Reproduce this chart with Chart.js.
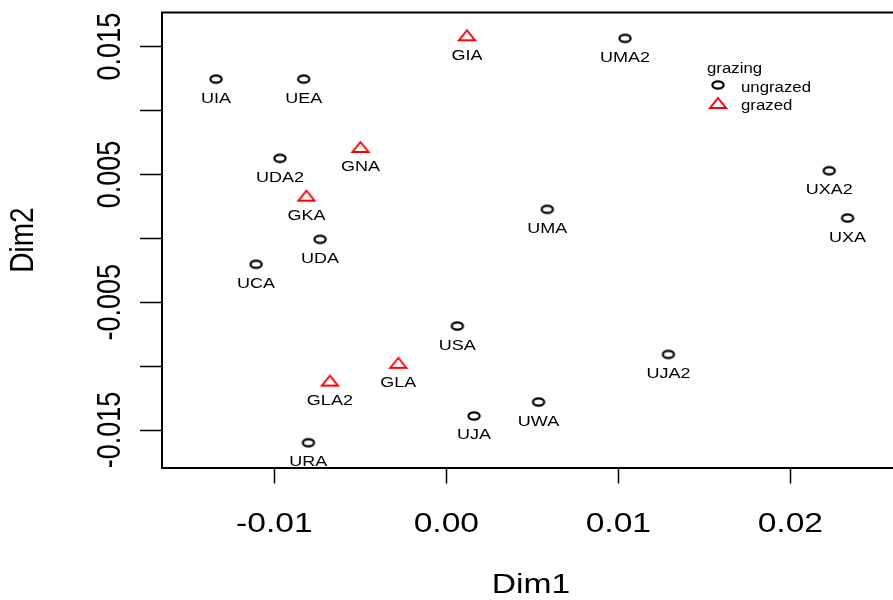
<!DOCTYPE html>
<html>
<head>
<meta charset="utf-8">
<title>NMDS ordination</title>
<script src="https://cdn.jsdelivr.net/npm/chart.js@4.4.1/dist/chart.umd.min.js"></script>
<style>
  html, body { margin: 0; padding: 0; background: #fff; overflow: hidden; }
  canvas { display: block; }
</style>
</head>
<body>
<!-- the plot box runs on past the right edge of the window -->
<canvas id="nmdsChart" width="903" height="600"></canvas>
<script>
// Site scores on the first two NMDS axes
const ungrazedSites = ['UIA', 'UEA', 'UMA2', 'UDA2', 'UDA', 'UCA', 'UMA', 'UXA2', 'UXA', 'USA', 'UJA2', 'UJA', 'UWA', 'URA'];
const ungrazedDim1 = [-0.01339, -0.00829, 0.01039, -0.00967, -0.00734, -0.01106, 0.00587, 0.02226, 0.02333, 0.00064, 0.01291, 0.00161, 0.00536, -0.00802];
const ungrazedDim2 = [0.01246, 0.01246, 0.01565, 0.00626, -0.00008, -0.00203, 0.00227, 0.00529, 0.00159, -0.00686, -0.00908, -0.01390, -0.01281, -0.01599];

const grazedSites = ['GIA', 'GNA', 'GKA', 'GLA', 'GLA2'];
const grazedDim1 = [0.00120, -0.00499, -0.00813, -0.00279, -0.00677];
const grazedDim2 = [0.01581, 0.00707, 0.00326, -0.00982, -0.01121];

// Axis ticks
const xTicks = [-0.01, 0, 0.01, 0.02];
const yTicks = [-0.015, -0.01, -0.005, 0, 0.005, 0.01, 0.015];
const yTickLabels = [-0.015, -0.005, 0.005, 0.015];

const legendTitle = 'grazing';
const legendLabels = ['ungrazed', 'grazed'];

const FONT = "'Liberation Sans', Arial, Helvetica, sans-serif";
const STRETCH = 1.2; // text is drawn slightly wide

// open circle, a bit flattened
function circleMarker() {
    const c = document.createElement('canvas');
    c.width = 18; c.height = 14;
    const g = c.getContext('2d');
    g.strokeStyle = '#000';
    g.lineWidth = 2.2;
    g.beginPath();
    g.ellipse(9, 7, 5.6, 3.6, 0, 0, Math.PI * 2);
    g.stroke();
    return c;
}

// open red triangle
function triangleMarker() {
    const c = document.createElement('canvas');
    c.width = 24; c.height = 22;
    const g = c.getContext('2d');
    g.strokeStyle = '#ff0000';
    g.lineWidth = 2;
    g.beginPath();
    g.moveTo(12, 11 - 6);
    g.lineTo(12 + 8, 11 + 4);
    g.lineTo(12 - 8, 11 + 4);
    g.closePath();
    g.stroke();
    return c;
}

const circleImg = circleMarker();
const triangleImg = triangleMarker();

function toPoints(xs, ys) {
    return xs.map((x, i) => ({ x: x, y: ys[i] }));
}

function drawText(ctx, text, x, y, size, align, rotate) {
    ctx.save();
    ctx.translate(x, y);
    ctx.scale(STRETCH, 1);
    if (rotate) ctx.rotate(-Math.PI / 2);
    ctx.font = size + 'px ' + FONT;
    ctx.fillStyle = '#000';
    ctx.textAlign = align;
    ctx.textBaseline = 'alphabetic';
    ctx.fillText(text, 0, 0);
    ctx.restore();
}

// box top, tick labels, titles, site names and legend
const annotations = {
    id: 'annotations',
    afterDraw(chart) {
        const ctx = chart.ctx;
        const area = chart.chartArea;
        const xs = chart.scales.x;
        const ys = chart.scales.y;

        ctx.save();
        ctx.strokeStyle = '#000';
        ctx.lineWidth = 2;
        ctx.beginPath();
        ctx.moveTo(area.left - 1, area.top);
        ctx.lineTo(area.right, area.top);
        ctx.stroke();
        ctx.restore();

        xTicks.forEach(v => {
            drawText(ctx, v.toFixed(2), xs.getPixelForValue(v), 532, 28, 'center', false);
        });
        yTickLabels.forEach(v => {
            drawText(ctx, String(v), 120, ys.getPixelForValue(v), 27, 'center', true);
        });

        drawText(ctx, 'Dim1', 531, 593, 28, 'center', false);
        drawText(ctx, 'Dim2', 33, 240, 28, 'center', true);

        // site names under each marker
        const names = [ungrazedSites, grazedSites];
        chart.data.datasets.forEach((ds, di) => {
            chart.getDatasetMeta(di).data.forEach((pt, i) => {
                drawText(ctx, names[di][i], pt.x, pt.y + 23.5, 15, 'center', false);
            });
        });

        // legend
        drawText(ctx, legendTitle, 707, 73, 14, 'left', false);
        ctx.drawImage(circleImg, 718 - circleImg.width / 2, 85 - circleImg.height / 2);
        drawText(ctx, legendLabels[0], 741, 92, 14, 'left', false);
        ctx.drawImage(triangleImg, 718 - triangleImg.width / 2, 104 - triangleImg.height / 2);
        drawText(ctx, legendLabels[1], 741, 110, 14, 'left', false);
    }
};

new Chart(document.getElementById('nmdsChart'), {
    type: 'scatter',
    data: {
        datasets: [{
            label: legendLabels[0],
            data: toPoints(ungrazedDim1, ungrazedDim2),
            pointStyle: circleImg,
            pointRadius: 6
        }, {
            label: legendLabels[1],
            data: toPoints(grazedDim1, grazedDim2),
            pointStyle: triangleImg,
            pointRadius: 8
        }]
    },
    options: {
        responsive: false,
        animation: false,
        devicePixelRatio: 1,
        layout: { autoPadding: false, padding: { top: 12.5, left: 0, right: 0, bottom: 0 } },
        plugins: {
            legend: { display: false },
            tooltip: { enabled: false }
        },
        scales: {
            x: {
                type: 'linear',
                min: -0.01653,
                max: 0.02655,
                afterBuildTicks: s => { s.ticks = xTicks.map(v => ({ value: v })); },
                afterFit: s => { s.height = 132.5; },
                ticks: { display: false },
                grid: {
                    display: true,
                    drawOnChartArea: false,
                    drawTicks: true,
                    tickLength: 16,
                    tickColor: '#000',
                    tickWidth: 1.5
                },
                border: { display: true, color: '#000', width: 2 }
            },
            y: {
                type: 'linear',
                min: -0.01793,
                max: 0.01767,
                afterBuildTicks: s => { s.ticks = yTicks.map(v => ({ value: v })); },
                afterFit: s => { s.width = 162; },
                ticks: { display: false },
                grid: {
                    display: true,
                    drawOnChartArea: false,
                    drawTicks: true,
                    tickLength: 22,
                    tickColor: '#000',
                    tickWidth: 1.5
                },
                border: { display: true, color: '#000', width: 2 }
            }
        }
    },
    plugins: [annotations]
});
</script>
</body>
</html>
